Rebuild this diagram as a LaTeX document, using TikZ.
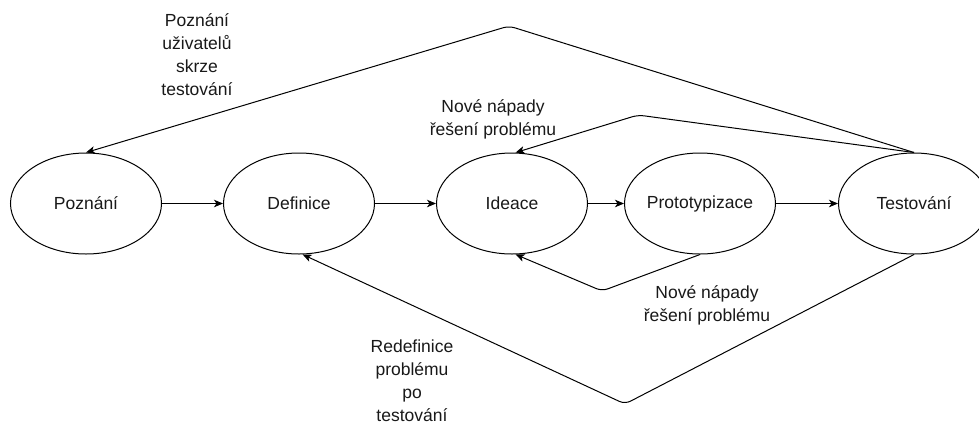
\documentclass[tikz,border=0pt]{standalone}
\usepackage{fontspec}
\setmainfont{Liberation Sans}
\usetikzlibrary{shapes.geometric,arrows.meta}
\begin{document}
\begin{tikzpicture}[x=1pt,y=-1pt,
  phase/.style={ellipse,draw,line width=1pt,minimum width=151pt,minimum height=101pt,inner sep=0pt,text=black!90,font=\fontsize{17.5}{23}\selectfont},
  lbl/.style={align=center,inner sep=0pt,text=black!90,font=\fontsize{17.5}{23}\selectfont},
  conn/.style={draw,line width=1pt,-{Stealth[length=9pt,width=7.5pt,inset=2.5pt]},rounded corners=6pt}]
\useasboundingbox (0,0) rectangle (979,424);
\clip (0,0) rectangle (979,424);
\fill[white] (0,0) rectangle (979,424);

\node[phase] (pozn) at (86,203.5) {Poznání};
\node[phase] (def) at (299,203.5) {Definice};
\node[phase] (idea) at (512,203.5) {Ideace};
\node[phase] (proto) at (700,203.5) {Prototypizace};
\node[phase] (test) at (914,203.5) {Testování};

\coordinate (peakA) at (509,26);
\coordinate (peakB) at (638,115);
\coordinate (valA) at (602,291);
\coordinate (valB) at (625,404);

\draw[conn] (pozn) -- (def);
\draw[conn] (def) -- (idea);
\draw[conn] (idea) -- (proto);
\draw[conn] (proto) -- (test);

\draw[conn] (test.north) -- (peakA) -- (pozn.north);
\draw[conn] (test.north) -- (peakB) -- (idea.86);
\draw[conn] (proto.south) -- (valA) -- (idea.-86);
\draw[conn] (test.south) -- (valB) -- (def.-86);

\node[lbl] (l1) at (197,55) {Poznání\\uživatelů\\skrze\\testování};
\node[lbl] (l2) at (493,119) {Nové nápady\\řešení problému};
\node[lbl] (l3) at (707,305) {Nové nápady\\řešení problému};
\node[lbl] (l4) at (412,381) {Redefinice\\problému\\po\\testování};
\end{tikzpicture}
\end{document}
